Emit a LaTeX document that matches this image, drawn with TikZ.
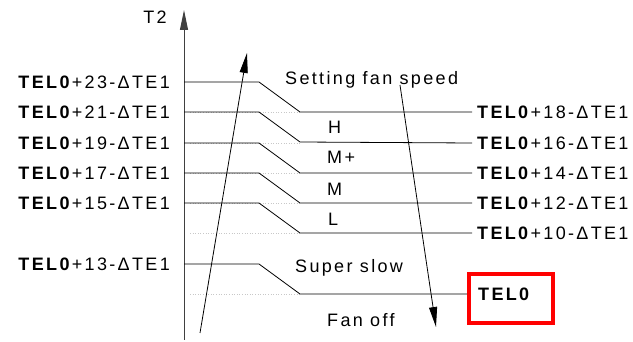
\documentclass[tikz,border=0pt]{standalone}
\usepackage{fontspec}
\setmainfont{Liberation Sans}[LetterSpace=13]
\usetikzlibrary{arrows.meta, positioning, calc}
\definecolor{boxred}{HTML}{FF0000}
\definecolor{dotgray}{HTML}{C8C8C8}
\definecolor{axgray}{HTML}{404040}

\begin{document}
\begin{tikzpicture}[
  x=1pt, y=-1pt,
  >={Triangle[length=20pt, width=8pt]},
  lbl/.style={font=\fontsize{18}{21}\selectfont, inner sep=0pt},
  rlbl/.style={lbl, anchor=west, inner xsep=5pt},
  level/.style={black, line width=0.8pt},
  guide/.style={dotgray, line width=0.6pt, dotted},
]

% Canvas: 633 x 342, one unit = one pixel, y grows downward
\path[use as bounding box, fill=white] (0,0) rectangle (633,342);

\pgfmathsetmacro{\kneew}{75}   % flat run before the step
\pgfmathsetmacro{\stepw}{41}   % width of the slanted step
\pgfmathsetmacro{\steph}{30}   % drop of each step
\pgfmathsetmacro{\footx}{300}  % x where the steps end

% --- T2 axis ---
\coordinate (axbot) at (184,340);
\coordinate (axtop) at (184,10);
\draw[axgray, line width=1pt, ->] (axbot) -- (axtop);
\node[lbl] (t2) at (155,17) {T2};

% --- Faint guide lines of the lower levels ---
\foreach \gy in {112,143,173,203,233,294}
  \draw[guide] (190,\gy) -- (\footx,\gy);

% --- TEL0+23 / TEL0+18 ---
\node[lbl, anchor=east] (l23) at (170,82) {\textbf{TEL0}+23-ΔTE1};
\node[rlbl] (r18) at (472,112) {\textbf{TEL0}+18-ΔTE1};
\draw[level] (l23 -| axbot) -- ++(\kneew,0) -- ++(\stepw,\steph) -- (r18.west);

% --- TEL0+21 / TEL0+16 ---
\node[lbl, anchor=east] (l21) at (170,112) {\textbf{TEL0}+21-ΔTE1};
\node[rlbl] (r16) at (472,143) {\textbf{TEL0}+16-ΔTE1};
\draw[level] (l21 -| axbot) -- ++(\kneew,0) -- ++(\stepw,\steph) -- (r16.west);

% --- TEL0+19 / TEL0+14 ---
\node[lbl, anchor=east] (l19) at (170,143) {\textbf{TEL0}+19-ΔTE1};
\node[rlbl] (r14) at (472,173) {\textbf{TEL0}+14-ΔTE1};
\draw[level] (l19 -| axbot) -- ++(\kneew,0) -- ++(\stepw,\steph) -- (r14.west);

% --- TEL0+17 / TEL0+12 ---
\node[lbl, anchor=east] (l17) at (170,173) {\textbf{TEL0}+17-ΔTE1};
\node[rlbl] (r12) at (472,203) {\textbf{TEL0}+12-ΔTE1};
\draw[level] (l17 -| axbot) -- ++(\kneew,0) -- ++(\stepw,\steph) -- (r12.west);

% --- TEL0+15 / TEL0+10 ---
\node[lbl, anchor=east] (l15) at (170,203) {\textbf{TEL0}+15-ΔTE1};
\node[rlbl] (r10) at (472,233) {\textbf{TEL0}+10-ΔTE1};
\draw[level] (l15 -| axbot) -- ++(\kneew,0) -- ++(\stepw,\steph) -- (r10.west);

% --- TEL0+13 / TEL0 (boxed) ---
\node[lbl, anchor=east] (l13) at (170,264) {\textbf{TEL0}+13-ΔTE1};
\node[draw=boxred, line width=4pt, minimum width=84pt, minimum height=49pt,
  anchor=west] (offbox) at (467,298.5) {};
\node[lbl, anchor=west] (off) at (478,294) {\textbf{TEL0}};
\draw[level] (l13 -| axbot) -- ++(\kneew,0) -- ++(\stepw,\steph)
  -- (offbox.west |- off);

% --- Fan speed bands ---
\node[lbl, anchor=west] (setfan) at (285,80) {Setting fan speed};
\node[lbl, anchor=west] (spdh) at (328,127) {H};
\node[lbl, anchor=west] (spdmp) at (327,157) {M+};
\node[lbl, anchor=west] (spdm) at (327,189) {M};
\node[lbl, anchor=west] (spdl) at (328,219) {L};
\node[lbl, anchor=west] (spdss) at (295,268) {Super slow};
\node[lbl, anchor=west] (spdoff) at (327,320) {Fan off};

% --- Rising and falling arrows ---
\coordinate (upfrom) at (200,333);
\coordinate (upto) at (247,53);
\draw[level, ->] (upfrom) -- (upto);
\coordinate (dnfrom) at (400,85);
\coordinate (dnto) at (436,327);
\draw[level, ->] (dnfrom) -- (dnto);

\end{tikzpicture}
\end{document}
